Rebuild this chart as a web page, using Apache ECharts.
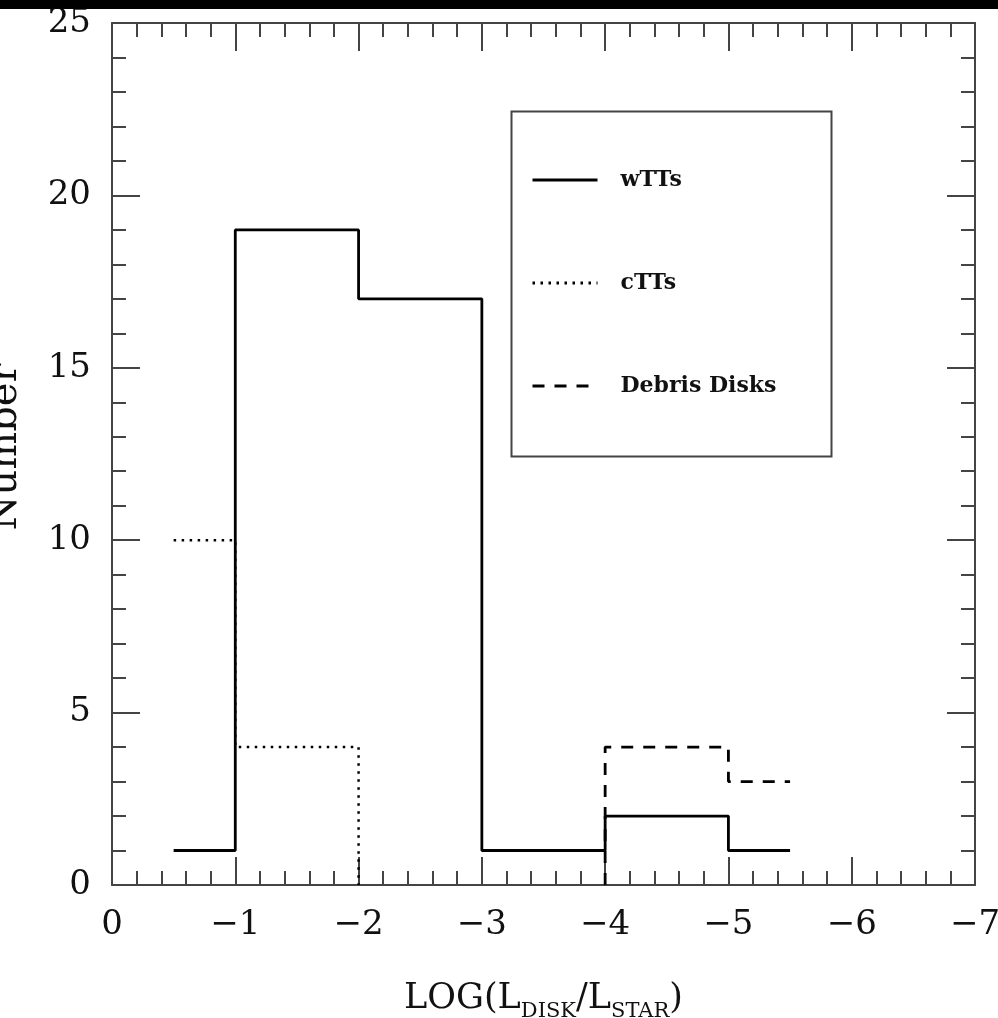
<!DOCTYPE html>
<html>
<head>
<meta charset="utf-8">
<script src="https://cdn.jsdelivr.net/npm/echarts@6/dist/echarts.min.js"></script>
<style>
html,body{margin:0;padding:0;background:#fff;}
#c{width:998px;height:1018px;}
</style>
</head>
<body>
<div id="c"></div>
<script>
// Histogram bin edges (LOG(Ldisk/Lstar)) and counts
const wttsEdges = [-0.5, -1, -2, -3, -4, -5, -5.5];
const wttsCounts = [1, 19, 17, 1, 2, 1];
const cttsEdges = [-0.5, -1, -2];
const cttsCounts = [10, 4];
const cttsEnd = 0;       // drops to zero at last edge
const debrisEdges = [-4, -5, -5.5];
const debrisCounts = [4, 3];
const debrisStart = 0;   // rises from zero at first edge
const xTicks = [0, -1, -2, -3, -4, -5, -6, -7];
const yTicks = [0, 5, 10, 15, 20, 25];

function histPoints(edges, counts, startVal, endVal) {
  const pts = [];
  if (startVal !== undefined) pts.push([edges[0], startVal]);
  for (let i = 0; i < counts.length; i++) pts.push([edges[i], counts[i]]);
  if (endVal !== undefined) pts.push([edges[edges.length - 1], endVal]);
  else pts.push([edges[edges.length - 1], counts[counts.length - 1]]);
  return pts;
}

const FONT = 'DejaVu Serif';
const chart = echarts.init(document.getElementById('c'), null, {renderer: 'canvas'});

const axisLine = {show: true, onZero: false, lineStyle: {color: '#444', width: 2}};
const axisTick = {show: true, inside: true, length: 28, lineStyle: {color: '#444', width: 2}};
const minorTick = {show: true, splitNumber: 5, length: 14, lineStyle: {color: '#444', width: 2}};

chart.setOption({
  animation: false,
  backgroundColor: '#fff',
  grid: {left: 112, right: 23, top: 23, bottom: 133, containLabel: false, outerBoundsMode: 'none'},
  legend: {
    orient: 'vertical', left: 526, top: 164,
    itemWidth: 65, itemHeight: 18, itemGap: 81,
    data: ['wTTs', 'cTTs', 'Debris Disks'],
    itemStyle: {opacity: 0, borderWidth: 0},
    lineStyle: {width: 3},
    textStyle: {fontFamily: FONT, fontWeight: 'bold', fontSize: 22, color: '#111', padding: [0, 0, 0, 18]},
    selectedMode: false
  },
  xAxis: [{
    type: 'value', min: -7, max: 0, interval: 1, inverse: true,
    axisLine, axisTick, minorTick, splitLine: {show: false},
    axisLabel: {
      fontFamily: FONT, fontSize: 34, color: '#111', margin: 23,
      formatter: v => (v < 0 ? '\u2212' + Math.abs(v) : String(v))
    },
    name: '{a|LOG(L}{s|DISK}{a|/L}{s|STAR}{a|)}',
    nameLocation: 'middle', nameGap: 90,
    nameTextStyle: {
      rich: {
        a: {fontFamily: FONT, fontSize: 35, color: '#111'},
        s: {fontFamily: FONT, fontSize: 21, color: '#111', padding: [26, 0, 0, 0]}
      }
    }
  }, {
    type: 'value', min: -7, max: 0, interval: 1, inverse: true, position: 'top',
    axisLine, axisTick, minorTick, splitLine: {show: false},
    axisLabel: {show: false}
  }],
  yAxis: [{
    type: 'value', min: 0, max: 25, interval: 5,
    axisLine, axisTick, minorTick, splitLine: {show: false},
    axisLabel: {fontFamily: FONT, fontSize: 34, color: '#111', margin: 21},
    name: 'Number', nameLocation: 'middle', nameGap: 86, nameRotate: 90,
    nameTextStyle: {fontFamily: FONT, fontSize: 40, color: '#111', padding: [0, 0, 0, 14]}
  }, {
    type: 'value', min: 0, max: 25, interval: 5, position: 'right',
    axisLine, axisTick, minorTick, splitLine: {show: false},
    axisLabel: {show: false}
  }],
  series: [{
    name: 'wTTs', type: 'line', step: 'end', symbol: 'none',
    data: histPoints(wttsEdges, wttsCounts),
    lineStyle: {color: '#000', width: 2.8, type: 'solid'},
    itemStyle: {color: '#000'}, z: 5
  }, {
    name: 'cTTs', type: 'line', step: 'end', symbol: 'none',
    data: histPoints(cttsEdges, cttsCounts, undefined, cttsEnd),
    lineStyle: {color: '#000', width: 2.5, type: [2.5, 5.5]},
    itemStyle: {color: '#000'}, z: 4
  }, {
    name: 'Debris Disks', type: 'line', step: 'end', symbol: 'none',
    data: histPoints(debrisEdges, debrisCounts, debrisStart),
    lineStyle: {color: '#000', width: 2.8, type: [12, 10]},
    itemStyle: {color: '#000'}, z: 4
  }],
  graphic: [
    {type: 'rect', left: 0, top: 0, shape: {width: 998, height: 9}, style: {fill: '#000'}, z: 100},
    {type: 'rect', left: 509, top: 109, shape: {width: 320, height: 345}, style: {fill: 'none', stroke: '#444', lineWidth: 2}, z: 10}
  ]
});
</script>
</body>
</html>
